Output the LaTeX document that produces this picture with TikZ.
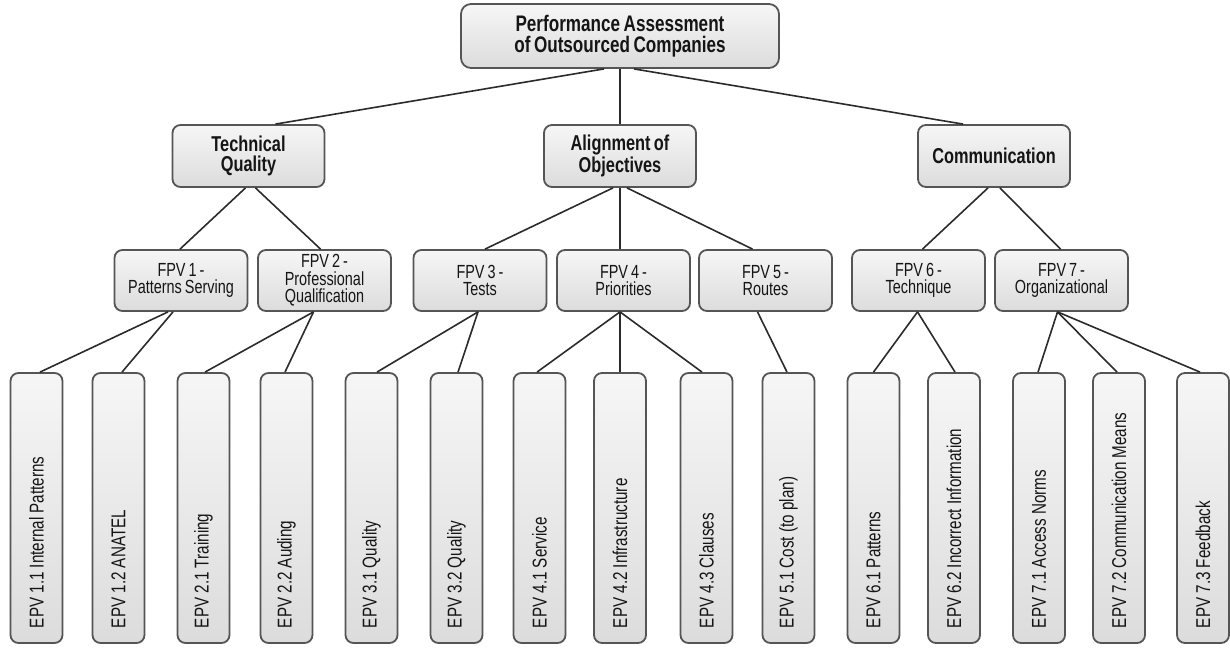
\documentclass[tikz,border=0pt]{standalone}
\usepackage{fontspec}
\setmainfont{Liberation Sans}[FakeStretch=0.76, WordSpace=0.75]
\usetikzlibrary{calc}
\definecolor{edgegray}{HTML}{555555}
\definecolor{linkgray}{HTML}{2B2B2B}
\definecolor{inkgray}{HTML}{151515}
\definecolor{fillhi}{HTML}{F6F6F6}
\definecolor{filllo}{HTML}{DCDCDC}
\newlength{\epvspace}
\setlength{\epvspace}{4.2pt plus 1pt minus 1pt}
\tikzset{
  box/.style={draw=edgegray, line width=1.8pt, rounded corners=8pt,
    top color=fillhi, bottom color=filllo, text=inkgray, align=center, inner sep=0pt},
  rootbox/.style={box, rounded corners=10pt, minimum width=318pt, minimum height=64pt,
    font=\fontsize{22.5}{20.5}\selectfont\bfseries},
  areabox/.style={box, minimum width=152pt, minimum height=62pt,
    font=\fontsize{21.5}{20}\selectfont\bfseries},
  fpvbox/.style={box, minimum width=133pt, minimum height=61pt,
    font=\fontsize{19}{17.5}\selectfont},
  epvbox/.style={box, rotate=90, minimum width=270pt, minimum height=52pt,
    text width=240pt, align=left, font=\fontsize{20}{18}\selectfont,
    execute at begin node={\spaceskip=\epvspace}},
  link/.style={draw=linkgray, line width=1.6pt},
}
\begin{document}
\begin{tikzpicture}[x=1pt, y=-1pt]
\useasboundingbox (0,0) rectangle (1230,652);

% root
\node[rootbox] (root) at (620,36) {Performance Assessment\\of Outsourced Companies};

% areas
\node[areabox] (tq) at (248.5,156) {Technical\\Quality};
\node[areabox] (al) at (620,156) {Alignment of\\Objectives};
\node[areabox] (co) at (994,156) {Communication};

% FPV factors
\node[fpvbox] (f1) at (181,280.5) {FPV 1 -\\Patterns Serving};
\node[fpvbox] (f2) at (324.5,280.5) {FPV 2 -\\Professional\\Qualification};
\node[fpvbox] (f3) at (480,280.5) {FPV 3 -\\Tests};
\node[fpvbox] (f4) at (623.5,280.5) {FPV 4 -\\Priorities};
\node[fpvbox] (f5) at (765.5,280.5) {FPV 5 -\\Routes};
\node[fpvbox] (f6) at (918.5,280.5) {FPV 6 -\\Technique};
\node[fpvbox] (f7) at (1061.5,280.5) {FPV 7 -\\Organizational};

% EPV elements
\node[epvbox] (e11) at (36.5,508) {EPV 1.1 Internal Patterns};
\node[epvbox] (e12) at (118.5,508) {EPV 1.2 ANATEL};
\node[epvbox] (e21) at (203.5,508) {EPV 2.1 Training};
\node[epvbox] (e22) at (286.5,508) {EPV 2.2 Auding};
\node[epvbox] (e31) at (371.5,508) {EPV 3.1 Quality};
\node[epvbox] (e32) at (456.5,508) {EPV 3.2 Quality};
\node[epvbox] (e41) at (539.5,508) {EPV 4.1 Service};
\node[epvbox] (e42) at (620,508) {EPV 4.2 Infrastructure};
\node[epvbox] (e43) at (706.5,508) {EPV 4.3 Clauses};
\node[epvbox] (e51) at (788.5,508) {EPV 5.1 Cost (to plan)};
\node[epvbox] (e61) at (873.5,508) {EPV 6.1 Patterns};
\node[epvbox] (e62) at (954,508) {EPV 6.2 Incorrect Information};
\node[epvbox] (e71) at (1039,508) {EPV 7.1 Access Norms};
\node[epvbox] (e72) at (1119,508) {EPV 7.2 Communication Means};
\node[epvbox] (e73) at (1203,508) {EPV 7.3 Feedback};

% root to areas
\draw[link] ($(root.south)+(-16,0)$) -- ($(tq.north)+(27,0)$);
\draw[link] (root.south) -- (al.north);
\draw[link] ($(root.south)+(14,0)$) -- ($(co.north)+(-31,0)$);

% areas to factors
\draw[link] ($(tq.south)+(-3,0)$) -- ($(f1.north)+(-1,0)$);
\draw[link] ($(tq.south)+(7,0)$) -- ($(f2.north)+(-4,0)$);
\draw[link] ($(al.south)+(-7,0)$) -- ($(f3.north)+(5,0)$);
\draw[link] (al.south) -- (al.south |- f4.north);
\draw[link] ($(al.south)+(7,0)$) -- ($(f5.north)+(-13,0)$);
\draw[link] ($(co.south)+(-6,0)$) -- ($(f6.north)+(4,0)$);
\draw[link] ($(co.south)+(6,0)$) -- ($(f7.north)+(-1,0)$);

% factors to elements
\draw[link] ($(f1.south)+(-13,0)$) -- ($(e11.east)+(3.5,0)$);
\draw[link] ($(f1.south)+(-8,0)$) -- ($(e12.east)+(3.5,0)$);
\draw[link] ($(f2.south)+(-11,0)$) -- ($(e21.east)+(1.5,0)$);
\draw[link] ($(f2.south)+(-11,0)$) -- ($(e22.east)+(-1.5,0)$);
\draw[link] ($(f3.south)+(-2,0)$) -- ($(e31.east)+(5.5,0)$);
\draw[link] ($(f3.south)+(-2,0)$) -- ($(e32.east)+(1.5,0)$);
\draw[link] ($(f4.south)+(-3.5,0)$) -- ($(e41.east)+(-2.5,0)$);
\draw[link] ($(f4.south)+(-3.5,0)$) -- (e42.east);
\draw[link] ($(f4.south)+(-3.5,0)$) -- ($(e43.east)+(-4.5,0)$);
\draw[link] ($(f5.south)+(-8,0)$) -- ($(e51.east)+(-1.5,0)$);
\draw[link] ($(f6.south)+(-1,0)$) -- (e61.east);
\draw[link] ($(f6.south)+(-1,0)$) -- ($(e62.east)+(1,0)$);
\draw[link] ($(f7.south)+(-4,0)$) -- ($(e71.east)+(-1,0)$);
\draw[link] ($(f7.south)+(-4,0)$) -- ($(e72.east)+(-2,0)$);
\draw[link] ($(f7.south)+(-4,0)$) -- ($(e73.east)+(-3,0)$);
\end{tikzpicture}
\end{document}
